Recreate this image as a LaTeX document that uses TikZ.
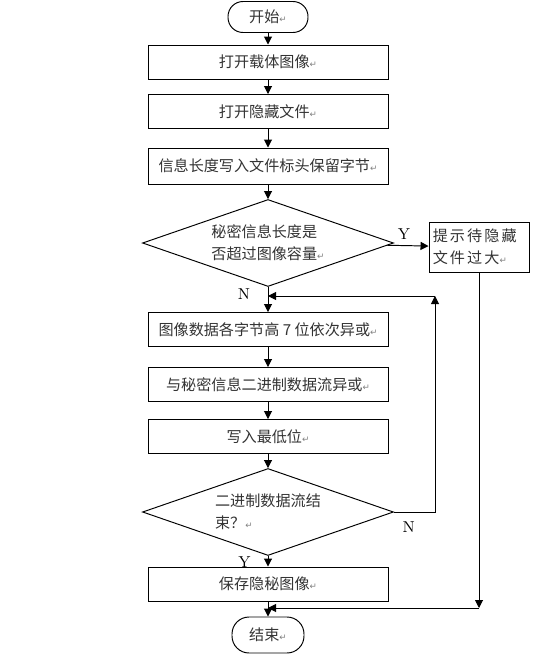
\documentclass[tikz,border=0pt]{standalone}
\usepackage{fontspec}
\newfontfamily\cjk{Noto Sans CJK SC}
\newfontfamily\cjkwide[LetterSpace=14]{Noto Sans CJK SC}
\newfontfamily\dvsans{DejaVu Sans}
\usepackage{xcolor}
\usepackage{tikz}
\usetikzlibrary{arrows.meta, positioning, shapes.geometric}
\newcommand{\parmark}{{\dvsans\fontsize{5}{5}\selectfont\color{gray}↵}}
\tikzset{
  arr/.style={-{Triangle[length=1.6mm,width=1.6mm]}},
  procbox/.style={draw, minimum width=4.8cm, minimum height=0.68cm, inner sep=1pt},
  termbox/.style={draw, rounded corners=0.3cm, minimum height=0.62cm},
  decide/.style={draw, diamond, aspect=2.9, minimum width=5.02cm, minimum height=1.74cm, inner sep=0pt, align=left},
  yn/.style={font=\rmfamily\small, text=black}
}

\begin{document}
\begin{tikzpicture}[x=0.02cm, y=-0.02cm, line width=0.55pt,
    font=\cjk\fontsize{8.6}{12.5}\selectfont, text=black!80]
    \useasboundingbox (0,0) rectangle (536,655);
    % main column
    \node[termbox, minimum width=1.6cm] (start) at (268,17) {开始\parmark};
    \node[procbox] (open)  at (268,62)    {打开载体图像\parmark};
    \node[procbox] (file)  at (268,111.5) {打开隐藏文件\parmark};
    \node[procbox, minimum height=0.72cm] (head) at (268,166) {信息长度写入文件标头保留字节\parmark};
    \node[decide]  (check) at (268,243)   {秘密信息长度是\\否超过图像容量\parmark};
    \node[draw, minimum width=2cm, minimum height=1cm, text width=1.85cm, align=left, inner sep=2pt,
        font=\cjkwide\fontsize{8.6}{12.5}\selectfont]
        (warn) at (479,247) {提示待隐藏\\文件过大\parmark};
    \node[procbox] (xor7)   at (268,329.5) {图像数据各字节高 7 位依次异或\parmark};
    \node[procbox] (xorbin) at (268,384.5) {与秘密信息二进制数据流异或\parmark};
    \node[procbox] (lsb)    at (268,436.5) {写入最低位\parmark};
    \node[decide]  (done)   at (268,512)   {二进制数据流结\\束？\parmark};
    \node[procbox] (save)   at (268,584)   {保存隐秘图像\parmark};
    \node[termbox, minimum width=1.44cm, minimum height=0.72cm, rounded corners=0.34cm] (stop) at (268,635) {结束\parmark};
    % corner points
    \coordinate (loopin) at (268,296);
    \coordinate (loopR)  at (435,296);
    \coordinate (merge)  at (268,608);
    \coordinate (mergeR) at (479,608);
    % connectors
    \draw[arr] (start) -- (open);
    \draw[arr] (open) -- (file);
    \draw[arr] (file) -- (head);
    \draw[arr] (head) -- (check);
    \draw[arr] (check) -- node[above, pos=0.4, yn] {Y} (warn);
    \draw[arr] (check) -- node[left=2.3mm, pos=0.3, yn] {N} (xor7);
    \draw[arr] (xor7) -- (xorbin);
    \draw[arr] (xorbin) -- (lsb);
    \draw[arr] (lsb) -- (done);
    \draw[arr] (done) -- node[left=2.2mm, pos=0.55, yn] {Y} (save);
    \draw[arr] (done.east) -| node[below, pos=0.18, yshift=-2pt, yn] {N} (loopR);
    \draw[arr] (loopR) -- (loopin);
    \draw[arr] (warn) -- (mergeR);
    \draw[arr] (mergeR) -- (merge);
    \draw[arr] (save) -- (stop);
\end{tikzpicture}
\end{document}
